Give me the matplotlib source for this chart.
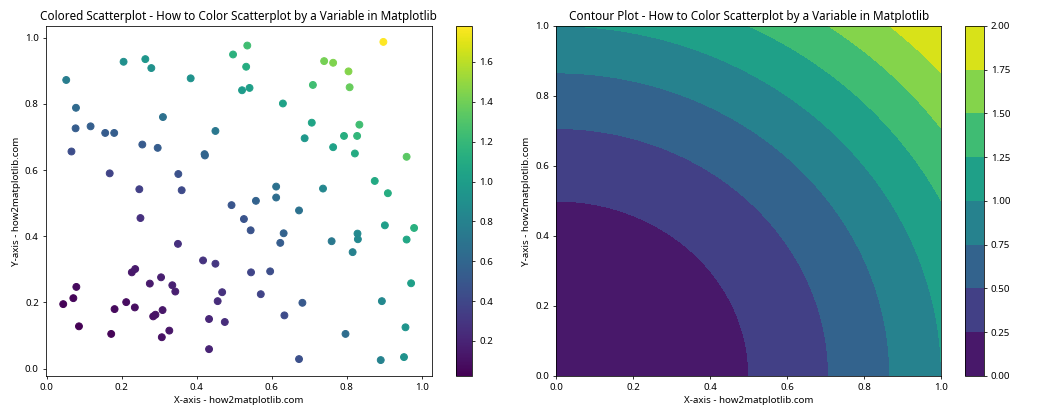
import numpy as np
import matplotlib.pyplot as plt

plt.rcParams['font.family'] = ['Noto Sans', 'DejaVu Sans']

# scatter points
x = [0.898, 0.535, 0.497, 0.532, 0.205, 0.263, 0.279, 0.052, 0.384, 0.521,
     0.541, 0.740, 0.764, 0.805, 0.710, 0.808, 0.630, 0.078, 0.077, 0.117,
     0.156, 0.180, 0.310, 0.450, 0.066, 0.255, 0.296, 0.421, 0.422, 0.707,
     0.688, 0.793, 0.828, 0.834, 0.764, 0.822, 0.960, 0.168, 0.351, 0.247,
     0.360, 0.612, 0.612, 0.737, 0.875, 0.910, 0.558, 0.493, 0.250, 0.526,
     0.673, 0.544, 0.632, 0.623, 0.760, 0.829, 0.830, 0.816, 0.902, 0.980,
     0.960, 0.350, 0.417, 0.450, 0.227, 0.236, 0.305, 0.275, 0.335, 0.343,
     0.468, 0.456, 0.545, 0.596, 0.571, 0.682, 0.634, 0.972, 0.894, 0.957,
     0.797, 0.673, 0.891, 0.953, 0.079, 0.071, 0.044, 0.086, 0.181, 0.212,
     0.235, 0.172, 0.284, 0.290, 0.309, 0.307, 0.327, 0.433, 0.475, 0.433]
y = [0.987, 0.976, 0.949, 0.912, 0.927, 0.935, 0.908, 0.872, 0.877, 0.841,
     0.848, 0.929, 0.924, 0.898, 0.857, 0.850, 0.801, 0.788, 0.726, 0.732,
     0.712, 0.712, 0.760, 0.718, 0.656, 0.677, 0.667, 0.648, 0.644, 0.743,
     0.696, 0.703, 0.703, 0.737, 0.669, 0.650, 0.640, 0.590, 0.588, 0.542,
     0.539, 0.550, 0.517, 0.544, 0.567, 0.530, 0.507, 0.494, 0.455, 0.452,
     0.478, 0.418, 0.409, 0.380, 0.385, 0.408, 0.391, 0.352, 0.433, 0.425,
     0.390, 0.377, 0.327, 0.317, 0.291, 0.301, 0.276, 0.257, 0.252, 0.233,
     0.231, 0.204, 0.291, 0.294, 0.225, 0.199, 0.161, 0.258, 0.204, 0.125,
     0.105, 0.029, 0.026, 0.035, 0.247, 0.213, 0.195, 0.128, 0.180, 0.201,
     0.185, 0.105, 0.158, 0.163, 0.177, 0.095, 0.115, 0.150, 0.141, 0.059]
x = np.array(x)
y = np.array(y)
colors = x**2 + y**2

# grid for the contour plot
gx = np.linspace(0, 1, 100)
gy = np.linspace(0, 1, 100)
GX, GY = np.meshgrid(gx, gy)
GZ = GX**2 + GY**2

fig = plt.figure(figsize=(15, 6), dpi=70)
ax1 = fig.add_axes([0.0435, 0.1048, 0.3676, 0.8333])
cax1 = fig.add_axes([0.434, 0.1048, 0.0158, 0.8333])
ax2 = fig.add_axes([0.5295, 0.1048, 0.367, 0.8333])
cax2 = fig.add_axes([0.9193, 0.1048, 0.0178, 0.8333])

# Colored scatterplot
sc = ax1.scatter(x, y, c=colors, cmap='viridis', s=50)
fig.colorbar(sc, cax=cax1)
ax1.set_title('Colored Scatterplot - How to Color Scatterplot by a Variable in Matplotlib', fontsize=12)
ax1.set_xlabel('X-axis - how2matplotlib.com')
ax1.set_ylabel('Y-axis - how2matplotlib.com')

# Contour plot
cs = ax2.contourf(GX, GY, GZ, cmap='viridis')
fig.colorbar(cs, cax=cax2)
ax2.set_title('Contour Plot - How to Color Scatterplot by a Variable in Matplotlib', fontsize=12)
ax2.set_xlabel('X-axis - how2matplotlib.com')
ax2.set_ylabel('Y-axis - how2matplotlib.com')

fig.savefig('out.png', dpi=70)
